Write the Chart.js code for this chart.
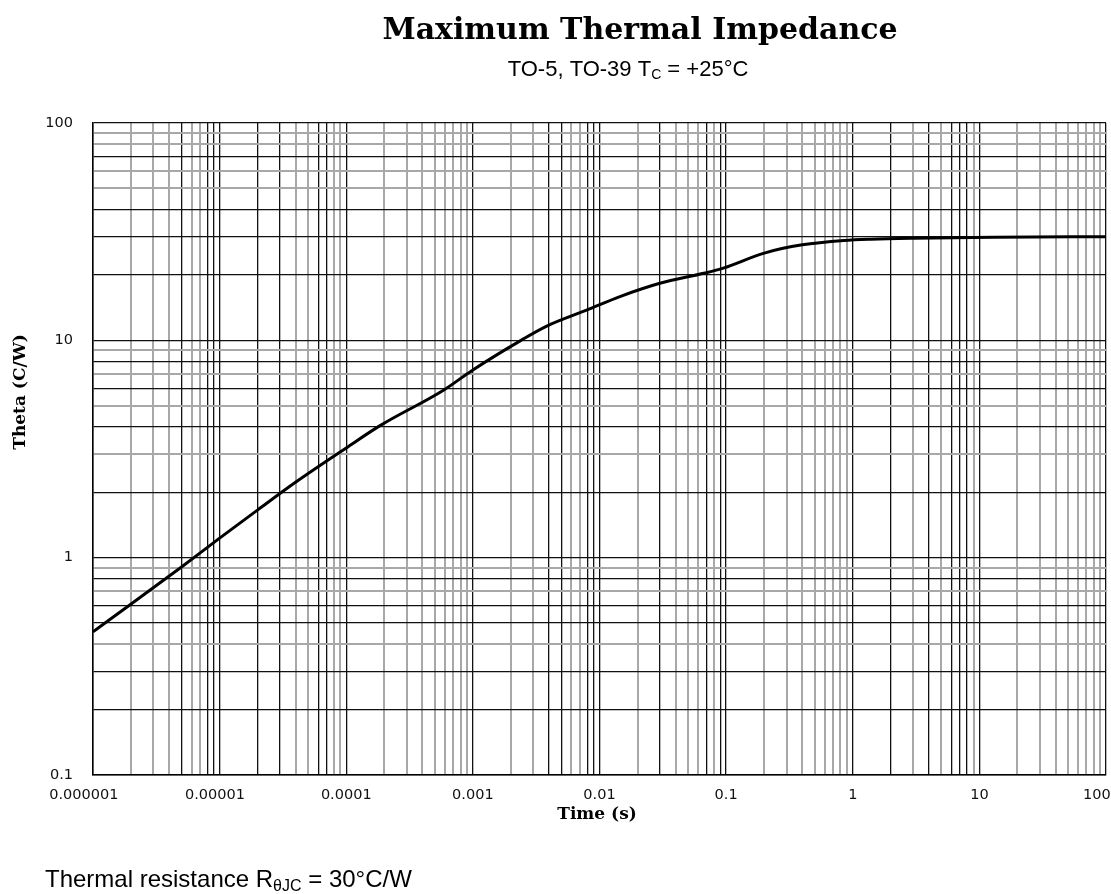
<!DOCTYPE html>
<html>
<head>
<meta charset="utf-8">
<script src="https://cdn.jsdelivr.net/npm/chart.js@4.4.1/dist/chart.umd.min.js"></script>
<style>
  html, body { margin: 0; padding: 0; background: #fff; }
  #wrap { width: 1111px; height: 894px; position: relative; }
</style>
</head>
<body>
<div id="wrap"><canvas id="myChart"></canvas></div>
<script>
// curve: time (s) vs theta (C/W)
const timeS = [1e-6, 2e-6, 5e-6, 1e-5, 2e-5, 4e-5, 1e-4, 1.85e-4, 5.9e-4,
  1e-3, 2.4e-3, 3.8e-3, 8e-3, 1.45e-2, 3e-2, 6.8e-2, 9.5e-2, 0.2, 0.4, 0.85, 1.4, 3, 13, 100];
const theta = [0.456, 0.612, 0.906, 1.23, 1.66, 2.23, 3.2, 4.05, 5.91,
  7.31, 10.0, 11.6, 13.8, 15.9, 18.3, 20.4, 21.5, 25.2, 27.5, 28.8, 29.2, 29.5, 29.8, 30];

const xTickValues = [1e-6, 1e-5, 1e-4, 1e-3, 1e-2, 1e-1, 1, 10, 100];
const xTickLabels = ['0.000001    ', '0.00001  ', '0.0001', '0.001', '0.01', '0.1', '1', '10', '100    '];
const yTickValues = [0.1, 1, 10, 100];
const yTickLabels = ['0.1', '1', '10', '100'];

// which minor grid lines are dark (digits 2..9 of each decade), the rest are grey
const xDark = ['00010011', '11001100', '00000000', '00110011', '01000101', '00000000', '10101110', '00000000'];
const yDark = ['11011010', '10101010', '11100100'];

function logTicks(min, max) {
  var out = [];
  var e0 = Math.round(Math.log10(min)), e1 = Math.round(Math.log10(max));
  for (var e = e0; e < e1; e++) {
    for (var d = 1; d < 10; d++) {
      out.push({ value: parseFloat((d * Math.pow(10, e)).toPrecision(6)), major: d === 1 });
    }
  }
  out.push({ value: max, major: true });
  return out;
}

function findLabel(v, vals, labels) {
  for (var i = 0; i < vals.length; i++) {
    if (Math.abs(Math.log10(v) - Math.log10(vals[i])) < 1e-6) return labels[i];
  }
  return '';
}

function isDark(v, startExp, table) {
  var e = Math.floor(Math.log10(v) + 1e-9);
  var d = Math.round(v / Math.pow(10, e));
  if (d === 1) return true;
  var row = table[e - startExp];
  if (!row) return true;
  return row.charAt(d - 2) === '1';
}

function gridColor(startExp, table) {
  return function (ctx) {
    if (!ctx.tick) return '#000';
    return isDark(ctx.tick.value, startExp, table) ? '#111' : '#a8a8a8';
  };
}
function gridWidth(startExp, table) {
  return function (ctx) {
    if (!ctx.tick) return 1;
    return isDark(ctx.tick.value, startExp, table) ? 1.3 : 2;
  };
}

const textPlugin = {
  id: 'texts',
  afterDraw(chart) {
    const c = chart.ctx;
    c.save();
    c.fillStyle = '#000';
    // title
    c.font = 'bold 30px "DejaVu Serif"';
    c.textAlign = 'center';
    c.textBaseline = 'alphabetic';
    c.fillText('Maximum Thermal Impedance', 640, 39);

    // subtitle with subscript
    var big = '22px "Liberation Sans"', small = '14px "Liberation Sans"';
    var p1 = 'TO-5, TO-39 T', p2 = 'C', p3 = ' = +25°C';
    c.font = big; var w1 = c.measureText(p1).width, w3 = c.measureText(p3).width;
    c.font = small; var w2 = c.measureText(p2).width;
    var x = 628 - (w1 + w2 + w3) / 2;
    c.textAlign = 'left';
    c.font = big; c.fillText(p1, x, 76);
    c.font = small; c.fillText(p2, x + w1, 79);
    c.font = big; c.fillText(p3, x + w1 + w2, 76);

    // footer
    var fb = '24px "Liberation Sans"', fs = '16px "Liberation Sans"';
    var f1 = 'Thermal resistance R', f2 = 'θJC', f3 = ' = 30°C/W';
    var fx = 45;
    c.font = fb; c.fillText(f1, fx, 887); fx += c.measureText(f1).width;
    c.font = fs; c.fillText(f2, fx, 891); fx += c.measureText(f2).width;
    c.font = fb; c.fillText(f3, fx, 887);

    // axis titles
    c.font = 'bold 17px "DejaVu Serif"';
    c.textAlign = 'center';
    c.textBaseline = 'middle';
    c.fillText('Time (s)', 597, 815);
    c.translate(21, 392);
    c.rotate(-Math.PI / 2);
    c.fillText('Theta (C/W)', 0, 0);
    c.restore();
  }
};

const myChart = new Chart(document.getElementById('myChart').getContext('2d'), {
  type: 'line',
  data: {
    labels: timeS,
    datasets: [{
      data: timeS.map(function (t, i) { return { x: t, y: theta[i] }; }),
      borderColor: '#000',
      borderWidth: 3,
      pointRadius: 0,
      fill: false,
      cubicInterpolationMode: 'monotone'
    }]
  },
  options: {
    responsive: true,
    maintainAspectRatio: false,
    animation: false,
    layout: { padding: { top: 123, left: 0, right: 5, bottom: 67 } },
    plugins: {
      legend: { display: false },
      tooltip: { enabled: false },
      title: { display: false }
    },
    scales: {
      x: {
        type: 'logarithmic',
        min: 1e-6,
        max: 100,
        afterBuildTicks: function (scale) { scale.ticks = logTicks(1e-6, 100); },
        afterFit: function (scale) { scale.height = 52; scale.paddingLeft = 0; scale.paddingRight = 0; },
        ticks: {
          autoSkip: false,
          maxRotation: 0,
          padding: 12,
          color: '#111',
          font: { family: 'DejaVu Sans', size: 14.5 },
          callback: function (v) { return findLabel(v, xTickValues, xTickLabels); }
        },
        grid: { drawTicks: false, color: gridColor(-6, xDark), lineWidth: gridWidth(-6, xDark) },
        border: { display: true, color: '#000', width: 1.5 }
      },
      y: {
        type: 'logarithmic',
        min: 0.1,
        max: 100,
        afterBuildTicks: function (scale) { scale.ticks = logTicks(0.1, 100); },
        afterFit: function (scale) { scale.width = 93; },
        ticks: {
          autoSkip: false,
          padding: 20,
          color: '#111',
          font: { family: 'DejaVu Sans', size: 14.5 },
          callback: function (v) { return findLabel(v, yTickValues, yTickLabels); }
        },
        grid: { drawTicks: false, color: gridColor(-1, yDark), lineWidth: gridWidth(-1, yDark) },
        border: { display: true, color: '#000', width: 1.5 }
      }
    }
  },
  plugins: [textPlugin]
});
</script>
</body>
</html>
